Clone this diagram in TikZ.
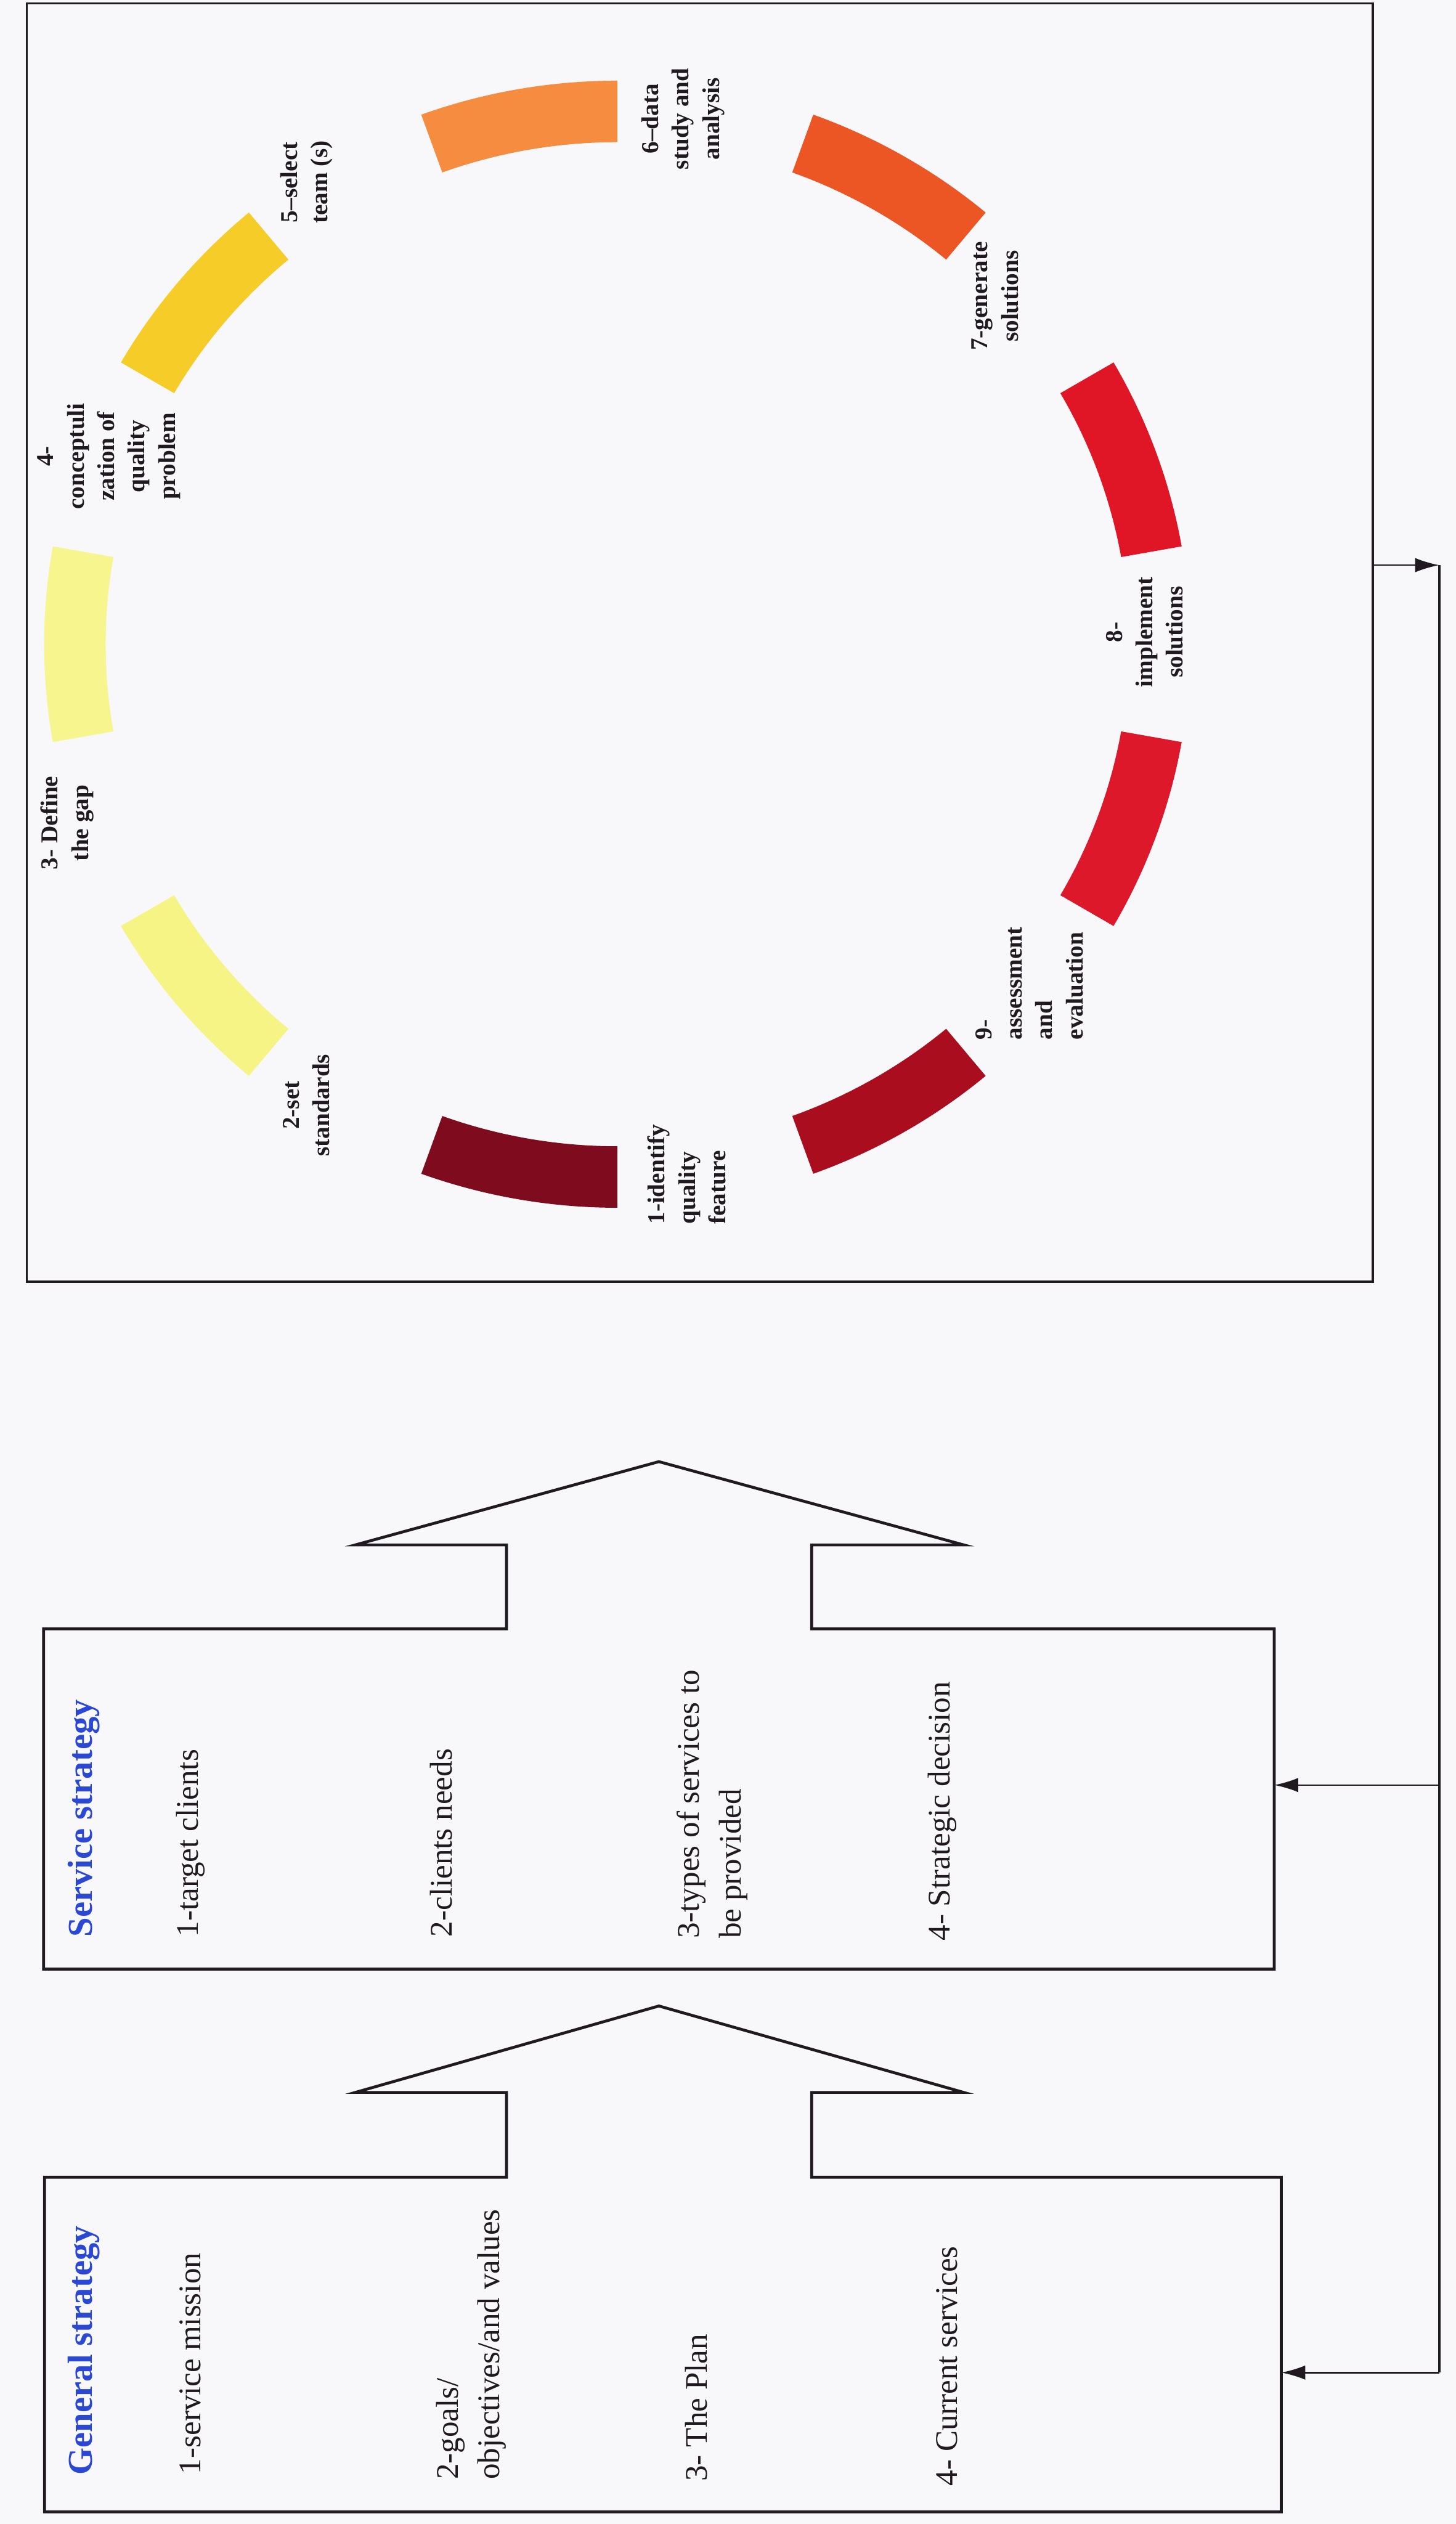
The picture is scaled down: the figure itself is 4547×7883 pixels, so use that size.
\documentclass[tikz,border=0pt]{standalone}
\usepackage{fontspec}
\setmainfont{Liberation Serif}
\usetikzlibrary{arrows.meta, calc}

% ring colours
\definecolor{segA}{RGB}{245,140,64}
\definecolor{segB}{RGB}{236,86,36}
\definecolor{segC}{RGB}{224,22,38}
\definecolor{segD}{RGB}{220,24,42}
\definecolor{segE}{RGB}{170,14,30}
\definecolor{segF}{RGB}{126,12,30}
\definecolor{segG}{RGB}{246,244,132}
\definecolor{segH}{RGB}{246,245,142}
\definecolor{segI}{RGB}{245,204,40}
\definecolor{titleblue}{RGB}{42,72,212}
\definecolor{ink}{RGB}{32,26,32}
\definecolor{paper}{RGB}{248,248,250}

\tikzset{
	outline/.style={draw=ink, line width=0.9mm, line join=miter},
	feedback/.style={draw=ink, line width=0.5mm, -{Latex[length=7.5mm, width=4.5mm]}},
	boxtitle/.style={rotate=90, anchor=west, inner sep=0pt, text=titleblue, font=\fontsize{31}{38}\selectfont\bfseries},
	entry/.style={rotate=90, anchor=west, inner sep=0pt, align=left, text=ink, font=\fontsize{28}{37}\selectfont},
	steplabel/.style={rotate=90, inner sep=0pt, align=center, text=ink, font=\fontsize{21.5}{27}\selectfont\bfseries},
}

\begin{document}
\begin{tikzpicture}[x=0.1mm, y=-0.1mm]
	\useasboundingbox (0,0) rectangle (4547,7883);
	\fill[paper] (0,0) rectangle (4547,7883);

	% frame round the cycle
	\node[draw=ink, line width=0.6mm, minimum width=420.5mm, minimum height=399.2mm, anchor=north west, inner sep=0pt] (cycle) at (80,8) {};

	% ring segments
	\begin{scope}[shift={(1928,2012)}, yscale=-1]
		\foreach \a/\c in {90/segA, 50/segB, 10/segC, -30/segD, -70/segE, -110/segF, -150/segG, 170/segH, 130/segI}
			\fill[\c] (\a:1790 and 1760) arc[start angle=\a, delta angle=20, x radius=1790, y radius=1760]
				-- ({\a+20}:1598 and 1568) arc[start angle={\a+20}, delta angle=-20, x radius=1598, y radius=1568] -- cycle;
	\end{scope}

	% ring labels
	\node[steplabel, align=left] (s1) at (2145,3668) {1-identify\\quality\\feature};
	\node[steplabel] (s2) at (957,3452) {2-set\\standards};
	\node[steplabel] (s3) at (210,2570) {3- Define\\the gap};
	\node[steplabel] (s4) at (340,1425) {4-\\conceptuli\\zation of\\quality\\problem};
	\node[steplabel] (s5) at (957,569) {5--select\\team (s)};
	\node[steplabel] (s6) at (2133,371) {6--data\\study and\\analysis};
	\node[steplabel] (s7) at (3108,925) {7-generate\\solutions};
	\node[steplabel] (s8) at (3575,1974) {8-\\implement\\solutions};
	\node[steplabel, align=left] (s9) at (3215,3071) {9-\\assessment\\and\\evaluation};

	% service strategy box with its arrow
	\draw[outline] (1582,5087) -- (1582,4825) -- (1110,4825) -- (2058,4565) -- (3010,4825) -- (2535,4825)
		-- (2535,5087) -- (3980,5087) -- (3980,6150) -- (136,6150) -- (136,5087) -- cycle;
	\coordinate (servNE) at (3980,5087);

	% general strategy box with its arrow
	\draw[outline] (1582,6800) -- (1582,6535) -- (1110,6535) -- (2058,6265) -- (3010,6535) -- (2535,6535)
		-- (2535,6800) -- (4002,6800) -- (4002,7845) -- (139,7845) -- (139,6800) -- cycle;
	\coordinate (genNE) at (4002,6800);

	% box texts
	\node[boxtitle] (servtitle) at (261,6050) {Service strategy};
	\node[entry] (serv1) at (595,6050) {1-target clients};
	\node[entry] (serv2) at (1378,6050) {2-clients needs};
	\node[entry] (serv3) at (2225,6055) {3-types of services to\\be provided};
	\node[entry] (serv4) at (2944,6062) {4- Strategic decision};

	\node[boxtitle] (gentitle) at (261,7730) {General strategy};
	\node[entry] (gen1) at (595,7728) {1-service mission};
	\node[entry] (gen2) at (1472,7745) {2-goals/\\objectives/and values};
	\node[entry] (gen3) at (2175,7750) {3- The Plan};
	\node[entry] (gen4) at (2958,7765) {4- Current services};

	% feedback lines
	\coordinate (fbtop) at (4495,1765);
	\coordinate (fbmid) at (4495,5575);
	\coordinate (fbbot) at (4495,7410);
	\draw[feedback] (cycle.east |- fbtop) -- (fbtop);
	\draw[draw=ink, line width=0.8mm] (fbtop) -- (fbbot);
	\draw[feedback] (fbmid) -- (servNE |- fbmid);
	\draw[feedback] (fbbot) -- (genNE |- fbbot);

\end{tikzpicture}
\end{document}
